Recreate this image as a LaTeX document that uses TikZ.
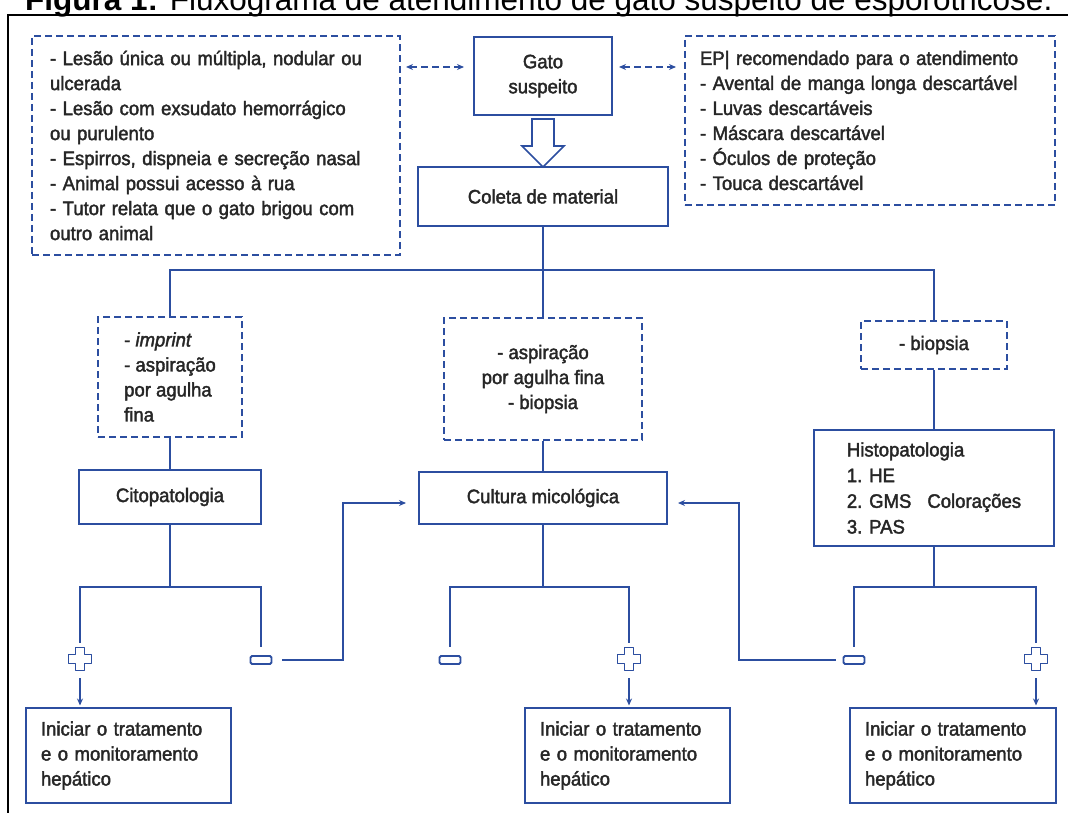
\documentclass[tikz,border=0pt]{standalone}
\usepackage{fontspec}
\setmainfont{Liberation Sans}
\newfontfamily\cond[FakeStretch=0.95,FakeBold=2]{Liberation Sans}
\usetikzlibrary{arrows.meta,calc}
\definecolor{lineblue}{RGB}{44,78,160}
\definecolor{txtgray}{RGB}{38,38,38}
\tikzset{
  every node/.style={inner sep=0pt},
  bfont/.style={font=\cond\fontsize{19.5}{25}\selectfont, text=txtgray},
  solidbox/.style={draw=lineblue, line width=2pt, fill=white, bfont, align=center},
  dashbox/.style={draw=lineblue, line width=2pt, dash pattern=on 7pt off 4pt, bfont, align=center},
  conn/.style={draw=lineblue, line width=2pt},
  thinarrow/.style={draw=lineblue, line width=1.6pt, -{Stealth[length=7pt,width=6pt]}},
  dasharrow/.style={draw=lineblue, line width=1.6pt, dash pattern=on 7pt off 4pt, {Stealth[length=7pt,width=6pt]}-{Stealth[length=7pt,width=6pt]}},
  minussym/.style={draw=lineblue, line width=1.8pt, rounded corners=1.5pt, minimum width=21pt, minimum height=8pt},
  plussym/.pic={
    \node[minimum size=24pt] (-n) {};
    \draw[draw=lineblue, line width=1.8pt, line join=round]
      (-4.5,-11.5) -- (4.5,-11.5) -- (4.5,-4.5) -- (11.5,-4.5) -- (11.5,4.5) -- (4.5,4.5)
      -- (4.5,11.5) -- (-4.5,11.5) -- (-4.5,4.5) -- (-11.5,4.5) -- (-11.5,-4.5) -- (-4.5,-4.5) -- cycle;
  },
}
\begin{document}
\begin{tikzpicture}[x=1pt,y=-1pt]
\useasboundingbox (0,0) rectangle (1068,813);
\clip (0,0) rectangle (1068,813);

% title (cut off at the top, as in the reference) and frame
\node[anchor=base west, font=\fontsize{31.5}{36}\selectfont, text=black] (title) at (25,10.5)
  {\textbf{Figura 1:} Fluxograma de atendimento de gato suspeito de esporotricose.};
\draw[black, line width=2pt] (8,813) -- (8,15) -- (1068,15);

% top row
\node[dashbox, minimum width=368pt, minimum height=219pt, text width=332pt, align=left] (sym) at (216,145.5)
  {- Lesão única ou múltipla, nodular ou\\ulcerada\\- Lesão com exsudato hemorrágico\\ou purulento\\- Espirros, dispneia e secreção nasal\\- Animal possui acesso à rua\\- Tutor relata que o gato brigou com\\outro animal};
\node[solidbox, minimum width=138pt, minimum height=78pt] (gato) at (543,76) {Gato\\suspeito};
\node[dashbox, minimum width=370pt, minimum height=169pt, text width=340pt, align=left] (epi) at (870,120.5)
  {EP| recomendado para o atendimento\\- Avental de manga longa descartável\\- Luvas descartáveis\\- Máscara descartável\\- Óculos de proteção\\- Touca descartável};
\node[solidbox, minimum width=250pt, minimum height=59pt] (coleta) at (543,196.5) {Coleta de material};

\draw[dasharrow, shorten <=5pt, shorten >=9pt] (sym.east |- 0,67) -- (gato.west |- 0,67);
\draw[dasharrow, shorten <=6pt, shorten >=8pt] (gato.east |- 0,67) -- (epi.west |- 0,67);

% hollow arrow
\draw[draw=lineblue, line width=1.6pt, fill=white, line join=miter]
  (532,119) -- (554,119) -- (554,146) -- (564,146) -- (543,167) -- (522,146) -- (532,146) -- cycle;

% second row
\node[dashbox, minimum width=144pt, minimum height=120pt, align=left] (imp) at (170,377)
  {- \textit{imprint}\\- aspiração\\por agulha\\fina};
\node[dashbox, minimum width=198pt, minimum height=122pt] (mid) at (543,379)
  {- aspiração\\por agulha fina\\- biopsia};
\node[dashbox, minimum width=146pt, minimum height=48pt] (bio) at (934,345) {- biopsia};

\coordinate (bus) at (543,270);
\draw[conn] (coleta.south) -- (bus);
\draw[conn] (imp.north) -- (imp.north |- bus) -- (bio.north |- bus) -- (bio.north);
\draw[conn] (bus) -- (mid.north);

% third row
\node[solidbox, minimum width=182pt, minimum height=54pt] (cito) at (170,497) {Citopatologia};
\node[solidbox, minimum width=248pt, minimum height=52pt] (cult) at (543,498) {Cultura micológica};
\node[solidbox, minimum width=240pt, minimum height=116pt, align=left,
      font=\cond\fontsize{19.5}{25.7}\selectfont] (histo) at (934,488)
  {Histopatologia\\1. HE\\2. GMS\hspace{16pt}Colorações\\3. PAS};

\draw[conn] (imp.south) -- (cito.north);
\draw[conn] (mid.south) -- (cult.north);
\draw[conn] (bio.south) -- (histo.north);

% result symbols
\pic (p1) at (80,659) {plussym};
\node[minussym] (m1) at (261,660) {};
\node[minussym] (m2) at (450,660) {};
\pic (p2) at (629,659) {plussym};
\node[minussym] (m3) at (854,660) {};
\pic (p3) at (1036,659) {plussym};

\draw[conn, shorten >=4pt] (cito.south) |- (p1-n.north |- 0,587) -- (p1-n.north);
\draw[conn, shorten >=8pt] (cito.south |- 0,587) -| (m1.north);
\draw[conn, shorten >=8pt] (cult.south) |- (m2.north |- 0,587) -- (m2.north);
\draw[conn, shorten >=4pt] (cult.south |- 0,587) -| (p2-n.north);
\draw[conn, shorten >=8pt] (histo.south) |- (m3.north |- 0,587) -- (m3.north);
\draw[conn, shorten >=4pt] (histo.south |- 0,587) -| (p3-n.north);

% bottom boxes
\node[solidbox, minimum width=205pt, minimum height=95pt, text width=175pt, align=left] (t1) at (128.5,755.5)
  {Iniciar o tratamento\\e o monitoramento\\hepático};
\node[solidbox, minimum width=205pt, minimum height=95pt, text width=175pt, align=left] (t2) at (627.5,755.5)
  {Iniciar o tratamento\\e o monitoramento\\hepático};
\node[solidbox, minimum width=206pt, minimum height=95pt, text width=176pt, align=left] (t3) at (953,755.5)
  {Iniciar o tratamento\\e o monitoramento\\hepático};

\draw[thinarrow, shorten <=7pt, shorten >=1.5pt] (p1-n.south) -- (p1-n.south |- t1.north);
\draw[thinarrow, shorten <=7pt, shorten >=1.5pt] (p2-n.south) -- (p2-n.south |- t2.north);
\draw[thinarrow, shorten <=7pt, shorten >=1.5pt] (p3-n.south) -- (p3-n.south |- t3.north);

% negative results go to the culture
\draw[thinarrow, shorten <=10pt, shorten >=12pt] (m1.east) -| (343,503) -- (cult.west |- 0,503);
\draw[thinarrow, shorten <=7pt, shorten >=10pt] (m3.west) -| (739,503) -- (cult.east |- 0,503);
\end{tikzpicture}
\end{document}
